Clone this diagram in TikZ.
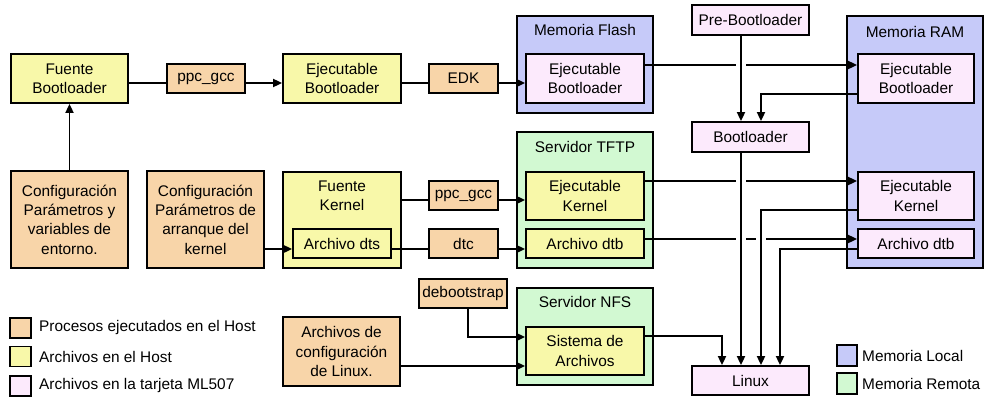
\documentclass[tikz,border=0pt]{standalone}
\usepackage{fontspec}
\setmainfont{Liberation Sans}
\usetikzlibrary{arrows.meta}

\definecolor{proccol}{HTML}{F8D5A9}
\definecolor{hostcol}{HTML}{F8F8A9}
\definecolor{boardcol}{HTML}{FCEAFC}
\definecolor{localcol}{HTML}{C6CAF9}
\definecolor{remotecol}{HTML}{D2F9D2}

\begin{document}
\begin{tikzpicture}[x=1pt,y=-1pt,
  font=\fontsize{15.4}{19.3}\selectfont,
  every node/.style={inner sep=0pt, align=center},
  framed/.style={draw, line width=1.8pt},
  procbox/.style={framed, fill=proccol},
  hostbox/.style={framed, fill=hostcol},
  boardbox/.style={framed, fill=boardcol},
  localbox/.style={framed, fill=localcol},
  remotebox/.style={framed, fill=remotecol},
  wh/.style 2 args={minimum width=#1pt, minimum height=#2pt},
  conn/.style={line width=1.8pt},
  arrowed/.style={conn, -{Triangle[length=9pt,width=8pt]}},
  jumpgap/.style={fill=white, minimum width=10pt, minimum height=6pt}]

\useasboundingbox (0,0) rectangle (985,397);

% memory containers
\node[localbox, wh={136}{97}] (flash) at (585,64.5) {};
\node (flashlbl) at (585,30) {Memoria Flash};
\node[remotebox, wh={136}{136}] (tftp) at (585,200) {};
\node (tftplbl) at (585,147) {Servidor TFTP};
\node[remotebox, wh={136}{97}] (nfs) at (585,336.5) {};
\node (nfslbl) at (585,302) {Servidor NFS};
\node[localbox, wh={136}{252}] (ram) at (915,142) {};
\node (ramlbl) at (915,32) {Memoria RAM};

% bootloader chain
\node[hostbox, wh={117}{49}] (fb) at (69.5,78.5) {Fuente\\Bootloader};
\node[procbox, wh={78}{29}] (ppcA) at (206,78.5) {ppc\_gcc};
\node[hostbox, wh={118}{49}] (eb) at (342,78.5) {Ejecutable\\Bootloader};
\node[procbox, wh={69}{29}] (edk) at (463.5,78.5) {EDK};
\node[boardbox, wh={118}{49}] (feb) at (585,78.5) {Ejecutable\\Bootloader};
\node[boardbox, wh={117}{30}] (pre) at (750.5,20) {Pre-Bootloader};
\node[boardbox, wh={117}{30}] (boot) at (750.5,137) {Bootloader};
\node[boardbox, wh={116}{49}] (reb) at (916,78.5) {Ejecutable\\Bootloader};
\node[procbox, wh={117}{97}] (cfgA) at (69.5,219.5) {Configuración\\Parámetros y\\variables de\\entorno.};

% kernel chain
\node[procbox, wh={117}{97}] (cfgB) at (205.5,219.5) {Configuración\\Parámetros de\\arranque del\\kernel};
\node[hostbox, wh={118}{96}] (fk) at (342,220) {};
\node (fklbl) at (342,196) {Fuente\\Kernel};
\node[hostbox, wh={98}{29}] (dts) at (342,243.5) {Archivo dts};
\node[procbox, wh={69}{29}] (ppcB) at (463.5,195.5) {ppc\_gcc};
\node[procbox, wh={69}{29}] (dtc) at (463.5,243.5) {dtc};
\node[hostbox, wh={118}{48}] (tk) at (585,196) {Ejecutable\\Kernel};
\node[hostbox, wh={118}{29}] (tdtb) at (585,243.5) {Archivo dtb};
\node[boardbox, wh={116}{48}] (rk) at (916,196) {Ejecutable\\Kernel};
\node[boardbox, wh={116}{29}] (rdtb) at (916,243.5) {Archivo dtb};

% root file system
\node[procbox, wh={88}{29}] (debo) at (463,293.5) {debootstrap};
\node[procbox, wh={117}{69}] (cfgL) at (341.5,351.5) {Archivos de\\configuración\\de Linux.};
\node[hostbox, wh={118}{48}] (sis) at (585,351) {Sistema de\\Archivos};
\node[boardbox, wh={117}{29}] (linux) at (750.5,380.5) {Linux};

% legend
\node[procbox, wh={21}{20}] (lgA) at (20.5,328) {};
\node[anchor=west] (lgAt) at (39,327.5) {Procesos ejecutados en el Host};
\node[hostbox, wh={21}{20}] (lgB) at (20.5,356.5) {};
\node[anchor=west] (lgBt) at (39,356.5) {Archivos en el Host};
\node[boardbox, wh={21}{20}] (lgC) at (20.5,386) {};
\node[anchor=west] (lgCt) at (39,386) {Archivos en la tarjeta ML507};
\node[localbox, wh={20}{21}] (lgD) at (847,355.5) {};
\node[anchor=west] (lgDt) at (862,355.5) {Memoria Local};
\node[remotebox, wh={20}{21}] (lgE) at (847,383.5) {};
\node[anchor=west] (lgEt) at (862,383.5) {Memoria Remota};

% bootloader connectors
\draw[arrowed] (cfgA.north) -- (fb.south);
\draw[conn] (fb.east |- 0,83) -- (ppcA.west |- 0,83);
\draw[arrowed] (ppcA.east |- 0,83) -- (eb.west |- 0,83);
\draw[conn] (eb.east |- 0,83) -- (edk.west |- 0,83);
\draw[arrowed] (edk.east |- 0,83) -- (feb.west |- 0,83);
\draw[arrowed] (feb.east |- 0,65) -- (reb.west |- 0,65);

% kernel connectors
\draw[conn] (fk.east |- 0,200) -- (ppcB.west |- 0,200);
\draw[arrowed] (ppcB.east |- 0,200) -- (tk.west |- 0,200);
\draw[arrowed] (cfgB.east |- 0,249) -- (dts.west |- 0,249);
\draw[conn] (dts.east |- 0,249) -- (dtc.west |- 0,249);
\draw[arrowed] (dtc.east |- 0,249) -- (tdtb.west |- 0,249);
\draw[arrowed] (tk.east |- 0,181) -- (rk.west |- 0,181);
\draw[arrowed] (tdtb.east |- 0,239) -- (rdtb.west |- 0,239);

% line jumps where vertical connectors cross
\node[jumpgap] (jA) at (741,65) {};
\node[jumpgap] (jB) at (741,181) {};
\node[jumpgap] (jC) at (741,239) {};
\node[jumpgap] (jD) at (761,239) {};

% boot sequence on the board
\draw[arrowed] (pre.south -| 741,0) -- (boot.north -| 741,0);
\draw[arrowed] (reb.west |- 0,94) -| (boot.north -| 761,0);
\draw[arrowed] (boot.south -| 741,0) -- (linux.north -| 741,0);
\draw[arrowed] (rk.west |- 0,210) -| (linux.north -| 761,0);
\draw[arrowed] (rdtb.west |- 0,249) -| (linux.north -| 780,0);
\draw[arrowed] (sis.east |- 0,336) -| (linux.north -| 722,0);

% file system connectors
\draw[arrowed] (debo.south -| 468,0) |- (sis.west |- 0,337);
\draw[arrowed] (cfgL.east |- 0,366) -- (sis.west |- 0,366);

\end{tikzpicture}
\end{document}
